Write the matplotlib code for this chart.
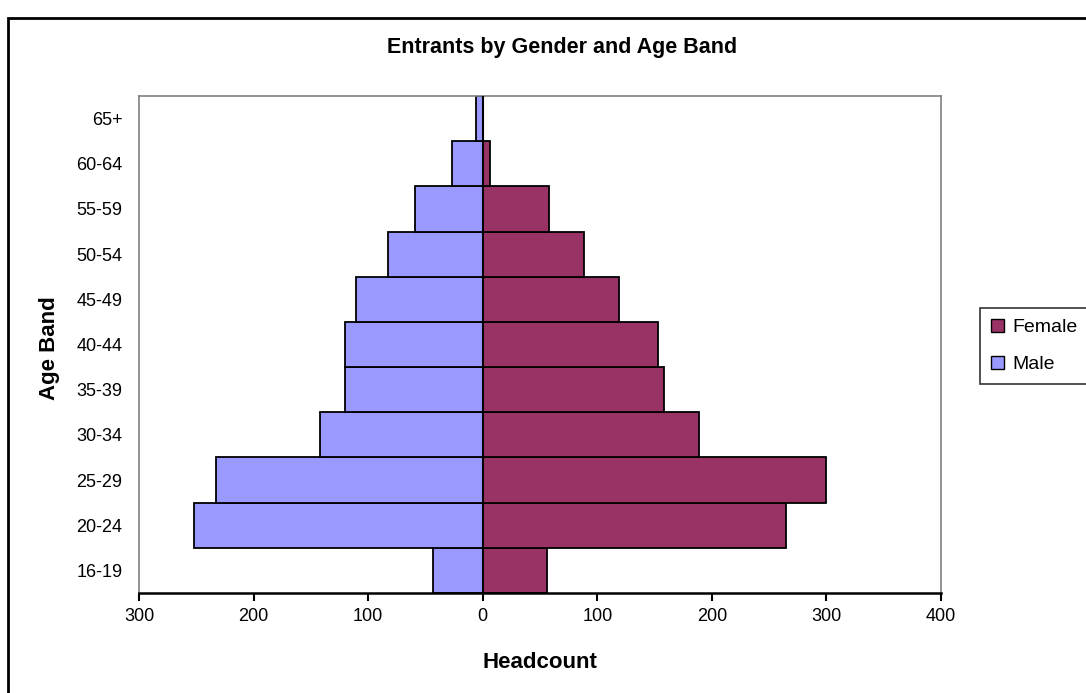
import matplotlib
matplotlib.use('Agg')
import matplotlib.pyplot as plt
from matplotlib.patches import Rectangle, Patch

# data
age_bands = ['16-19', '20-24', '25-29', '30-34', '35-39', '40-44',
             '45-49', '50-54', '55-59', '60-64', '65+']
male = [43, 252, 233, 142, 120, 120, 111, 83, 59, 27, 6]
female = [56, 265, 300, 189, 158, 153, 119, 88, 58, 6, 0]
x_ticks = [-300, -200, -100, 0, 100, 200, 300, 400]
x_tick_labels = ['300', '200', '100', '0', '100', '200', '300', '400']

MALE_COLOR = '#9999FF'
FEMALE_COLOR = '#993366'

plt.rcParams['font.family'] = ['Liberation Sans', 'DejaVu Sans']

W, H = 1086, 693
fig = plt.figure(figsize=(W / 100, H / 100), dpi=100)
ax = fig.add_axes([139 / W, 1 - 593 / H, (941 - 139) / W, (593 - 96) / H])

# outer chart frame (runs off the right and bottom of the image)
fig.patches.append(Rectangle((8 / W, -0.1), 1.2, 1 - 18 / H + 0.1,
                             transform=fig.transFigure, fill=False,
                             edgecolor='black', linewidth=2))

pos = list(range(len(age_bands)))
ax.barh(pos, [-m for m in male], height=1.0, color=MALE_COLOR,
        edgecolor='black', linewidth=1.3, zorder=2)
ax.barh(pos, female, height=1.0, color=FEMALE_COLOR,
        edgecolor='black', linewidth=1.3, zorder=2)
ax.axvline(0, color='black', linewidth=1.5, zorder=3)

ax.set_xlim(-300, 400)
ax.set_ylim(-0.5, len(age_bands) - 0.5)
ax.set_xticks(x_ticks)
ax.set_xticklabels(x_tick_labels, fontsize=13)
ax.set_yticks(pos)
ax.set_yticklabels(age_bands, fontsize=13)
ax.tick_params(axis='y', length=0, pad=12)
ax.tick_params(axis='x', direction='out', length=6, width=1.5, pad=5)

for side in ['top', 'left', 'right']:
    ax.spines[side].set_color('#808080')
    ax.spines[side].set_linewidth(1.2)
ax.spines['bottom'].set_color('black')
ax.spines['bottom'].set_linewidth(1.8)

fig.text(562 / W, 1 - 47 / H, 'Entrants by Gender and Age Band',
         ha='center', va='center', fontsize=15.5, fontweight='bold')
fig.text(540 / W, 1 - 662 / H, 'Headcount', ha='center', va='center',
         fontsize=16, fontweight='bold')
fig.text(50 / W, 1 - 348 / H, 'Age Band', ha='center', va='center',
         rotation=90, fontsize=16, fontweight='bold')

handles = [Patch(facecolor=FEMALE_COLOR, edgecolor='black', label='Female'),
           Patch(facecolor=MALE_COLOR, edgecolor='black', label='Male')]
leg = fig.legend(handles=handles, loc='upper left',
                 bbox_to_anchor=(980 / W, 1 - 308 / H), fontsize=14,
                 frameon=True, fancybox=False, handlelength=0.7,
                 handleheight=0.7, handletextpad=0.4, borderpad=0.55,
                 labelspacing=1.0, borderaxespad=0)
leg.get_frame().set_edgecolor('black')
leg.get_frame().set_linewidth(1.2)

fig.savefig('out.png', dpi=100)
